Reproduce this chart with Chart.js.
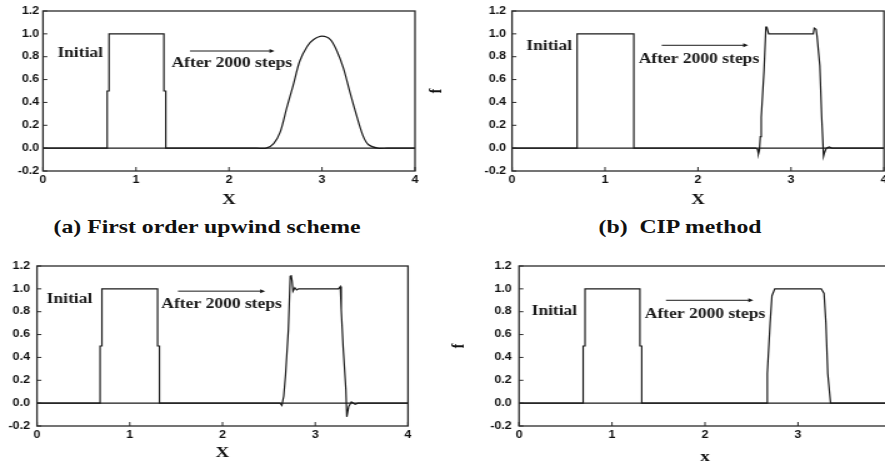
<!DOCTYPE html>
<html lang="en">
<head>
<meta charset="UTF-8">
<title>Advection of a square pulse: upwind vs CIP</title>
<script src="https://cdn.jsdelivr.net/npm/chart.js"></script>
<style>
  html, body { margin: 0; padding: 0; background: #fff; }
  body { width: 885px; height: 464px; overflow: hidden; position: relative; }
  /* the original figure is stretched sideways, so each panel is too */
  .panel { position: absolute; transform: scaleX(1.25); transform-origin: 0 0; }
  .caption {
    position: absolute; top: 216px; width: 300px; text-align: center;
    font: bold 19px "Liberation Serif", "Times New Roman", serif; color: #111;
    white-space: pre; transform: scaleX(1.25); transform-origin: center;
  }
</style>
</head>
<body>

<div class="panel" style="left:0px; top:0px; width:352px; height:211px;"><canvas id="chartA"></canvas></div>
<div class="panel" style="left:420px; top:0px; width:390px; height:211px;"><canvas id="chartB"></canvas></div>
<div class="panel" style="left:0px; top:240px; width:352px; height:224px;"><canvas id="chartC"></canvas></div>
<div class="panel" style="left:440px; top:240px; width:380px; height:226px;"><canvas id="chartD"></canvas></div>

<div class="caption" style="left:57px;">(a) First order upwind scheme</div>
<div class="caption" style="left:530px;">(b)  CIP method</div>

<script>
    const xTicks = [0, 1, 2, 3, 4];
    const fTicks = [-0.2, 0.0, 0.2, 0.4, 0.6, 0.8, 1.0, 1.2];

    // initial square pulse, as it is drawn in each panel
    const initAX = [0, 0.69, 0.69, 0.71, 0.71, 1.30, 1.30, 1.32, 1.32, 4];
    const initAF = [0, 0, 0.5, 0.5, 1, 1, 0.5, 0.5, 0, 0];
    const initBX = [0, 0.70, 0.70, 1.31, 1.31, 4];
    const initBF = [0, 0, 1, 1, 0, 0];
    const initCX = [0, 0.68, 0.68, 0.70, 0.70, 1.30, 1.30, 1.32, 1.32, 4];
    const initCF = [0, 0, 0.5, 0.5, 1, 1, 0.5, 0.5, 0, 0];
    const initDX = [0, 0.69, 0.69, 0.71, 0.71, 1.30, 1.30, 1.32, 1.32, 4];
    const initDF = [0, 0, 0.5, 0.5, 1, 1, 0.5, 0.5, 0, 0];

    // after 2000 steps
    const upwindX = [0, 2.30, 2.40, 2.48, 2.55, 2.62, 2.69, 2.76, 2.84, 2.91, 3.00, 3.09, 3.16, 3.23, 3.30, 3.37, 3.44, 3.50, 3.60, 3.70, 4];
    const upwindF = [0, 0, 0, 0.04, 0.14, 0.35, 0.55, 0.76, 0.89, 0.95, 0.98, 0.95, 0.85, 0.70, 0.49, 0.29, 0.11, 0.03, 0, 0, 0];

    const cipX = [0, 2.62, 2.64, 2.65, 2.66, 2.67, 2.68, 2.71, 2.73, 2.74, 2.76, 3.24, 3.25, 3.27, 3.28, 3.31, 3.33, 3.35, 3.36, 3.38, 3.41, 3.44, 4];
    const cipF = [0, 0, -0.01, -0.05, -0.02, 0.10, 0.27, 0.68, 1.06, 1.06, 1.00, 1.00, 1.05, 1.04, 0.98, 0.72, 0.27, -0.07, -0.04, 0.00, 0.01, 0, 0];

    const panelCX = [0, 2.62, 2.64, 2.66, 2.68, 2.71, 2.73, 2.74, 2.75, 2.76, 2.78, 2.80, 2.82, 3.25, 3.27, 3.28, 3.30, 3.33, 3.34, 3.36, 3.39, 3.43, 3.46, 4];
    const panelCF = [0, 0, -0.02, 0.06, 0.25, 0.64, 1.11, 1.12, 1.07, 0.98, 1.01, 0.99, 1.00, 1.00, 1.02, 0.82, 0.50, 0.12, -0.12, -0.03, 0.01, -0.01, 0, 0];

    const panelDX = [0, 2.66, 2.67, 2.70, 2.72, 2.75, 3.25, 3.28, 3.30, 3.32, 3.35, 4];
    const panelDF = [0, 0, 0.26, 0.70, 0.94, 1.00, 1.00, 0.96, 0.70, 0.26, 0, 0];

    const serif = '"Liberation Serif", "Times New Roman", serif';
    const sans = '"Liberation Sans", Arial, sans-serif';
    const ink = '#1a1a1a';

    function pts(xs, fs) {
        return xs.map((x, i) => ({ x: x, y: fs[i] }));
    }

    // box, inward tick marks and the two labels with the arrow
    const framePlugin = {
        id: 'frame',
        afterDatasetsDraw(chart, args, opts) {
            const { ctx, chartArea: a, scales: { x, y } } = chart;
            ctx.save();
            ctx.strokeStyle = '#2a2a2a';
            ctx.lineWidth = 1.3;
            ctx.strokeRect(a.left, a.top, a.right - a.left, a.bottom - a.top);

            ctx.lineWidth = 1;
            ctx.beginPath();
            x.ticks.forEach(t => {
                const px = x.getPixelForValue(t.value);
                ctx.moveTo(px, a.bottom);
                ctx.lineTo(px, a.bottom - 4);
            });
            y.ticks.forEach(t => {
                const py = y.getPixelForValue(t.value);
                ctx.moveTo(a.left, py);
                ctx.lineTo(a.left + 3.5, py);
            });
            ctx.stroke();

            const n = opts.notes;
            if (n) {
                ctx.fillStyle = ink;
                ctx.font = 'bold 14px ' + serif;
                ctx.textAlign = 'center';
                ctx.textBaseline = 'middle';
                ctx.fillText('Initial', x.getPixelForValue(n.initial[0]), y.getPixelForValue(n.initial[1]));
                ctx.fillText('After 2000 steps', x.getPixelForValue(n.after[0]), y.getPixelForValue(n.after[1]));

                const x1 = x.getPixelForValue(n.arrow[0]);
                const x2 = x.getPixelForValue(n.arrow[1]);
                const ay = y.getPixelForValue(n.arrow[2]);
                ctx.strokeStyle = ink;
                ctx.lineWidth = 1;
                ctx.beginPath();
                ctx.moveTo(x1, ay);
                ctx.lineTo(x2 - 2, ay);
                ctx.stroke();
                ctx.beginPath();
                ctx.moveTo(x2, ay);
                ctx.lineTo(x2 - 4, ay - 2);
                ctx.lineTo(x2 - 4, ay + 2);
                ctx.closePath();
                ctx.fill();
            }
            ctx.restore();
        }
    };

    function makeChart(id, c) {
        return new Chart(document.getElementById(id), {
            type: 'line',
            data: {
                datasets: [
                    { data: pts(c.initX, c.initF), borderColor: ink, borderWidth: 1.2, pointRadius: 0, tension: 0 },
                    { data: pts(c.afterX, c.afterF), borderColor: ink, borderWidth: 1.2, pointRadius: 0,
                      tension: c.smooth ? 0.3 : 0 }
                ]
            },
            options: {
                animation: false,
                responsive: true,
                maintainAspectRatio: false,
                events: [],
                layout: { padding: { left: 0, top: c.top, right: c.right, bottom: 0 } },
                plugins: {
                    legend: { display: false },
                    tooltip: { enabled: false },
                    frame: { notes: c.notes }
                },
                scales: {
                    x: {
                        type: 'linear',
                        min: 0,
                        max: 4,
                        afterBuildTicks: s => { s.ticks = xTicks.map(v => ({ value: v })); },
                        afterFit: s => { s.height = c.xHeight; },
                        grid: { display: false, drawTicks: false },
                        border: { display: false },
                        ticks: {
                            padding: 3,
                            color: '#111',
                            font: { family: sans, size: 10, weight: 'bold' },
                            maxRotation: 0,
                            callback: v => String(v)
                        },
                        title: {
                            display: true,
                            text: c.xTitle,
                            color: '#111',
                            font: { family: serif, size: 15, weight: 'bold' },
                            padding: { top: 0, bottom: c.xTitlePad }
                        }
                    },
                    y: {
                        type: 'linear',
                        min: -0.2,
                        max: 1.2,
                        afterBuildTicks: s => { s.ticks = fTicks.map(v => ({ value: v })); },
                        afterFit: s => { s.width = c.yWidth; },
                        grid: { display: false, drawTicks: false },
                        border: { display: false },
                        ticks: {
                            padding: c.yPad,
                            color: '#111',
                            font: { family: sans, size: 10, weight: 'bold' },
                            callback: v => v.toFixed(1)
                        },
                        title: {
                            display: !!c.yTitle,
                            text: c.yTitle || '',
                            color: '#111',
                            font: { family: serif, size: 14, weight: 'bold' },
                            padding: { top: c.yTitlePad || 0, bottom: 0 }
                        }
                    }
                }
            },
            plugins: [framePlugin]
        });
    }

    makeChart('chartA', {
        initX: initAX, initF: initAF, afterX: upwindX, afterF: upwindF, smooth: true,
        top: 11, right: 20, xHeight: 40, yWidth: 34.4, yPad: 3,
        xTitle: 'X', xTitlePad: 2,
        notes: { initial: [0.40, 0.83], after: [2.03, 0.74], arrow: [1.58, 2.49, 0.85] }
    });

    makeChart('chartB', {
        initX: initBX, initF: initBF, afterX: cipX, afterF: cipF, smooth: false,
        top: 11, right: 18.8, xHeight: 40, yWidth: 73.6, yPad: 4.8,
        xTitle: 'X', xTitlePad: 2, yTitle: 'f', yTitlePad: 4.6,
        notes: { initial: [0.40, 0.89], after: [2.01, 0.78], arrow: [1.61, 2.54, 0.90] }
    });

    makeChart('chartC', {
        initX: initCX, initF: initCF, afterX: panelCX, afterF: panelCF, smooth: false,
        top: 26, right: 25.6, xHeight: 38, yWidth: 29.6, yPad: 5.6,
        xTitle: 'X', xTitlePad: 2,
        notes: { initial: [0.35, 0.91], after: [1.99, 0.86], arrow: [1.52, 2.46, 0.98] }
    });

    makeChart('chartD', {
        initX: initDX, initF: initDF, afterX: panelDX, afterF: panelDF, smooth: false,
        top: 26, right: 19.2, xHeight: 40, yWidth: 63.2, yPad: 5.8,
        xTitle: 'x', xTitlePad: 0, yTitle: 'f', yTitlePad: 7,
        notes: { initial: [0.38, 0.80], after: [2.00, 0.78], arrow: [1.58, 2.52, 0.90] }
    });
</script>

</body>
</html>
